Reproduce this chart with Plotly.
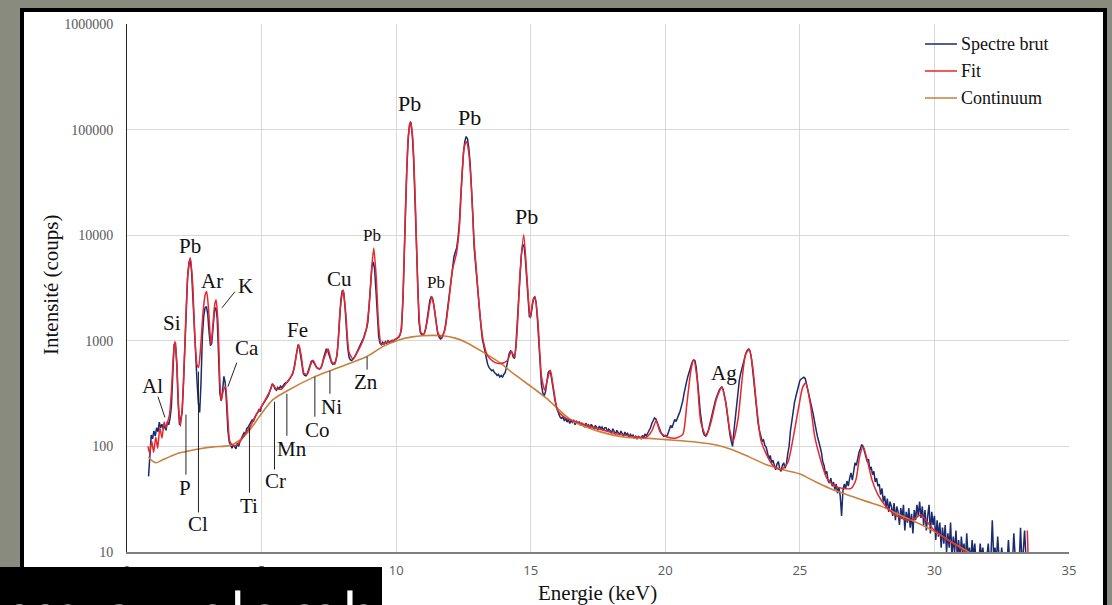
import numpy as np
import plotly.graph_objects as go

# ---------------------------------------------------------------- data
# Raw spectrum, one value every 0.05 keV starting at 0.80 keV (one row = 1 keV)
RAW_START_KEV = 0.80
RAW_STEP_KEV = 0.05
RAW_COUNTS = [
    52, 95, 128, 118, 140, 125, 150, 138, 170, 150, 162, 145, 158, 142, 172, 160, 185, 240, 520, 920,
    960, 600, 260, 160, 185, 210, 400, 900, 2200, 4000, 5500, 6000, 4500, 2400, 1100, 650, 420, 260, 210, 400,
    1100, 1700, 2050, 2110, 1800, 1200, 900, 950, 1400, 1950, 2060, 1650, 750, 320, 270, 330, 460, 400, 250, 140,
    110, 100, 96, 104, 98, 95, 108, 100, 112, 118, 126, 135, 130, 148, 152, 160, 170, 178, 174, 190,
    200, 210, 222, 214, 240, 250, 262, 272, 290, 302, 330, 368, 392, 378, 350, 340, 362, 350, 372, 360,
    382, 392, 402, 405, 420, 440, 455, 480, 540, 650, 800, 900, 880, 720, 560, 490, 470, 465, 490, 540,
    600, 640, 650, 620, 580, 555, 545, 540, 550, 590, 680, 780, 830, 820, 740, 660, 620, 600, 610, 640,
    720, 1000, 1700, 2500, 3000, 2900, 2100, 1300, 860, 700, 660, 650, 670, 700, 740, 790, 850, 890, 960, 1000,
    1080, 1200, 1300, 1500, 2200, 3600, 5000, 5600, 4800, 3000, 1700, 1100, 950, 920, 970, 930, 980, 940, 1000, 960,
    990, 1010, 980, 1030, 1040, 1060, 1080, 1150, 1300, 2400, 7000, 19000, 45000, 83000, 113000, 117000, 90000, 52000, 23000, 8800,
    3000, 1500, 1200, 1140, 1130, 1180, 1300, 1600, 2000, 2400, 2600, 2550, 2200, 1700, 1300, 1150, 1080, 1040, 1060, 1150,
    1250, 1500, 1900, 2500, 3200, 4200, 5400, 6300, 6900, 7600, 9500, 13000, 23000, 40000, 60000, 77000, 86000, 82000, 67000, 48000,
    29500, 15600, 7500, 5200, 4000, 2800, 1900, 1400, 1050, 900, 760, 680, 600, 560, 545, 520, 530, 500, 490, 470,
    480, 455, 470, 450, 480, 500, 560, 650, 760, 800, 780, 700, 680, 900, 1500, 2700, 4500, 6500, 8000, 8100,
    6000, 3800, 2300, 1700, 1700, 2100, 2500, 2600, 2300, 1600, 900, 550, 380, 320, 300, 330, 420, 500, 520, 480,
    400, 320, 275, 238, 214, 201, 188, 184, 192, 174, 186, 170, 181, 165, 176, 169, 178, 160, 172, 166,
    170, 158, 167, 161, 152, 166, 155, 160, 149, 162, 153, 147, 158, 150, 144, 156, 148, 153, 141, 150,
    150, 138, 146, 141, 133, 147, 139, 130, 142, 136, 128, 140, 131, 125, 137, 129, 133, 122, 130, 126,
    128, 119, 126, 117, 124, 121, 118, 127, 122, 130, 126, 134, 140, 150, 165, 178, 186, 182, 168, 150,
    140, 133, 128, 124, 127, 124, 132, 145, 158, 150, 166, 180, 172, 190, 200, 215, 240, 270, 320, 380,
    420, 470, 530, 580, 630, 660, 650, 560, 430, 300, 210, 160, 138, 128, 125, 132, 142, 160, 185, 210,
    232, 265, 290, 320, 340, 355, 365, 345, 300, 258, 205, 160, 130, 112, 100, 140, 190, 250, 330, 420,
    490, 550, 620, 700, 770, 815, 836, 800, 680, 520, 380, 280, 210, 165, 140, 125, 112, 115, 102, 98,
    88, 76, 82, 70, 74, 64, 60, 68, 72, 62, 58, 66, 70, 62, 68, 85, 100, 140, 180, 230,
    260, 295, 340, 390, 420, 435, 445, 452, 440, 390, 330, 290, 260, 230, 200, 170, 140, 125, 112, 100,
    88, 72, 66, 55, 58, 47, 45, 50, 42, 46, 39, 44, 36, 41, 34, 22, 38, 44, 40, 47,
    42, 50, 56, 48, 62, 70, 66, 80, 88, 95, 104, 100, 88, 80, 72, 76, 60, 64, 54, 58,
    46, 50, 42, 44, 35, 40, 30, 34, 26, 32, 24, 30, 27, 22, 29, 20, 27, 24, 18, 26,
    21, 28, 16, 24, 19, 26, 17, 23, 15, 25, 20, 28, 22, 30, 21, 27, 18, 25, 16, 22,
    28, 15, 24, 18, 22, 13, 20, 14, 19, 11, 17, 12, 18, 10, 15, 11, 19, 9, 14, 10,
    16, 9, 13, 8, 14, 10, 12, 8, 15, 9, 11, 8, 13, 9, 12, 8, 10, 8, 12, 9,
    11, 8, 10, 9, 12, 8, 9, 20, 9, 11, 8, 14, 9, 8, 11, 8, 10, 9, 8, 13,
    8, 10, 8, 15, 9, 8, 10, 8, 17, 8, 10, 16, 9, 8,
]

# Fitted spectrum
FIT_KEV = [
    0.78, 0.84, 0.92, 0.99, 1.07, 1.14, 1.22, 1.30, 1.38, 1.45, 1.52, 1.58, 1.65, 1.72, 1.78, 1.85,
    1.92, 1.98, 2.04, 2.10, 2.18, 2.26, 2.35, 2.44, 2.52, 2.60, 2.66, 2.74, 2.82, 2.90, 2.96, 3.03,
    3.12, 3.20, 3.26, 3.31, 3.38, 3.45, 3.50, 3.57, 3.66, 3.74, 3.82, 3.95, 4.10, 4.25, 4.40, 4.57,
    4.75, 4.95, 5.15, 5.30, 5.42, 5.55, 5.75, 5.93, 6.10, 6.22, 6.30, 6.38, 6.47, 6.58, 6.70, 6.82,
    6.92, 7.05, 7.18, 7.32, 7.47, 7.60, 7.72, 7.82, 7.92, 8.03, 8.13, 8.25, 8.40, 8.58, 8.75, 8.88,
    9.00, 9.10, 9.17, 9.26, 9.35, 9.45, 9.60, 9.80, 10.00, 10.15, 10.25, 10.35, 10.45, 10.53, 10.62, 10.72,
    10.82, 10.92, 11.02, 11.15, 11.25, 11.33, 11.42, 11.55, 11.68, 11.82, 11.95, 12.10, 12.24, 12.35, 12.45, 12.53,
    12.61, 12.70, 12.80, 12.88, 13.00, 13.10, 13.23, 13.40, 13.60, 13.80, 14.00, 14.15, 14.28, 14.40, 14.50, 14.60,
    14.74, 14.86, 14.98, 15.08, 15.16, 15.27, 15.40, 15.52, 15.62, 15.73, 15.85, 16.00, 16.30, 16.80, 17.30, 17.80,
    18.30, 18.80, 19.30, 19.50, 19.66, 19.82, 20.10, 20.40, 20.65, 20.80, 20.95, 21.06, 21.18, 21.32, 21.52, 21.70,
    21.90, 22.10, 22.25, 22.40, 22.52, 22.70, 22.85, 22.98, 23.12, 23.25, 23.40, 23.55, 23.75, 24.00, 24.30, 24.55,
    24.75, 24.95, 25.10, 25.22, 25.38, 25.55, 25.75, 26.00, 26.30, 26.60, 26.90, 27.08, 27.22, 27.35, 27.50, 27.68,
    27.90, 28.20, 28.60, 29.00, 29.30, 29.50, 29.75, 30.00, 30.40, 30.80, 31.20, 31.60, 32.20, 32.80, 33.40, 33.45,
]
FIT_COUNTS = [
    100, 86, 112, 88, 122, 96, 150, 120, 170, 150, 175, 200, 330, 700, 990, 620,
    230, 155, 210, 420, 1500, 4200, 6100, 3500, 1100, 600, 560, 900, 1800, 2700, 2930, 2000,
    920, 1500, 2200, 2450, 1500, 420, 270, 330, 370, 200, 112, 102, 104, 116, 132, 152,
    190, 228, 280, 330, 385, 350, 350, 400, 460, 560, 760, 920, 730, 490, 480, 590,
    650, 560, 545, 680, 840, 640, 600, 820, 2000, 3040, 1800, 780, 670, 800, 980, 1250,
    2200, 5200, 7550, 4000, 1400, 920, 960, 990, 1040, 1150, 2400, 19000, 85000, 119000, 80000, 18000,
    2500, 1200, 1150, 1500, 2200, 2630, 2000, 1200, 1070, 1300, 2300, 4800, 6700, 12000, 38000, 68000,
    77000, 60000, 27000, 10000, 4060, 1900, 1020, 720, 640, 610, 620, 660, 795, 700, 1300, 4200,
    10100, 4000, 1645, 2400, 2630, 1500, 460, 340, 430, 530, 350, 220, 185, 168, 152, 140,
    130, 124, 122, 140, 175, 135, 122, 120, 130, 250, 520, 665, 440, 170, 125, 170,
    280, 365, 260, 140, 112, 180, 420, 740, 830, 560, 230, 115, 85, 66, 60, 70,
    120, 230, 360, 398, 260, 125, 78, 50, 42, 40, 40, 48, 80, 100, 75, 48,
    35, 27, 22, 20, 21, 22.5, 19, 16, 13.5, 11.6, 9.9, 8.2, 6.2, 4.8, 3.6, 16,
]

# Continuum (background) under the peaks
CONTINUUM_KEV = [
    0.80, 0.90, 1.08, 1.30, 1.60, 1.90, 2.15, 2.71, 3.20, 3.82, 4.20, 4.57, 5.00, 5.42, 5.94, 6.90,
    7.65, 8.91, 9.50, 10.13, 10.60, 10.99, 11.35, 11.73, 12.20, 12.62, 13.20, 13.85, 14.40, 15.07, 15.59, 16.50,
    17.56, 18.50, 19.41, 20.04, 20.60, 21.27, 21.90, 22.49, 23.10, 23.76, 24.49, 24.98, 25.60, 26.21, 26.95, 27.50,
    28.06, 28.70, 29.44, 30.07, 30.66, 31.29, 31.80, 33.45,
]
CONTINUUM_COUNTS = [
    80, 74, 70, 74, 80, 86, 89, 95, 99, 102, 115, 144, 205, 277, 335, 448,
    533, 709, 880, 1025, 1090, 1117, 1125, 1117, 1060, 959, 790, 621, 480, 360, 285, 178,
    138, 122, 119, 116, 113, 109, 103, 93, 80, 67, 59, 55, 46, 39, 33.5, 30,
    26.9, 22.5, 18.5, 15.3, 12.3, 9.9, 8, 5,
]

X_TICKS = [0, 5, 10, 15, 20, 25, 30, 35]
Y_TICKS = [10, 100, 1000, 10000, 100000, 1000000]

# Element labels: text, energy (keV), height (counts), font size
LABEL_TEXT = ["Al", "Si", "Pb", "P", "Cl", "Ar", "K", "Ca", "Ti", "Cr", "Mn", "Fe", "Co",
              "Ni", "Cu", "Zn", "Pb", "Pb", "Pb", "Pb", "Pb", "Ag"]
LABEL_KEV = [0.93, 1.67, 2.34, 2.15, 2.64, 3.16, 4.42, 4.46, 4.53, 5.50, 6.13, 6.35, 7.09,
             7.61, 7.91, 8.88, 9.10, 10.51, 11.47, 12.74, 14.85, 22.17]
LABEL_COUNTS = [376, 1483, 7940, 40.7, 18.6, 3707, 3319, 861, 27.5, 47.4, 95.3, 1274, 144,
                238, 3864, 410, 9863, 178600, 3548, 128800, 14930, 499]
LABEL_SIZE = [21, 21, 21, 21, 21, 21, 21, 21, 21, 21, 21, 21, 21,
              21, 21, 21, 17, 22, 17, 22, 22, 21]

# Leader lines from a label to its line: keV / counts at both ends
LEADER_KEV0 = [1.15, 2.19, 2.655, 4.01, 4.08, 4.55, 5.48, 5.94, 6.98, 7.54, 8.92]
LEADER_CNT0 = [296, 200, 510, 2917, 621, 151, 265, 316, 457, 520, 708]
LEADER_KEV1 = [1.41, 2.19, 2.655, 3.53, 3.75, 4.55, 5.48, 5.94, 6.98, 7.54, 8.92]
LEADER_CNT1 = [188, 54, 23.7, 2055, 368, 36.5, 60.4, 126, 191, 315, 533]

SERIES_NAMES = ["Spectre brut", "Fit", "Continuum"]
SERIES_COLORS = ["#1b2b6e", "#e8262d", "#c8803e"]

# ---------------------------------------------------------------- layout helpers
W, H = 1112, 605
PLOT_L, PLOT_R, PLOT_T, PLOT_B = 127, 1069, 24, 552


def px_x(px):
    return (px - PLOT_L) / (PLOT_R - PLOT_L)


def px_y(py):
    return (PLOT_B - py) / (PLOT_B - PLOT_T)


SERIF = "Liberation Serif, Times New Roman, serif"

raw_kev = [round(RAW_START_KEV + RAW_STEP_KEV * i, 2) for i in range(len(RAW_COUNTS))]

fig = go.Figure()
fig.add_trace(go.Scatter(x=raw_kev, y=RAW_COUNTS, mode="lines", name=SERIES_NAMES[0],
                         line=dict(color=SERIES_COLORS[0], width=1.5)))
fig.add_trace(go.Scatter(x=CONTINUUM_KEV, y=CONTINUUM_COUNTS, mode="lines", name=SERIES_NAMES[2],
                         line=dict(color=SERIES_COLORS[2], width=1.6, shape="spline", smoothing=0.8)))
fig.add_trace(go.Scatter(x=FIT_KEV, y=FIT_COUNTS, mode="lines", name=SERIES_NAMES[1],
                         line=dict(color=SERIES_COLORS[1], width=1.5, shape="spline", smoothing=0.6)))

shapes = []
# white card with black frame
shapes.append(dict(type="rect", xref="paper", yref="paper", layer="below",
                   x0=px_x(22), x1=px_x(1105), y0=px_y(625), y1=px_y(10),
                   fillcolor="white", line=dict(color="black", width=4)))
# leader lines
for k0, c0, k1, c1 in zip(LEADER_KEV0, LEADER_CNT0, LEADER_KEV1, LEADER_CNT1):
    shapes.append(dict(type="line", xref="x", yref="y", x0=k0, y0=c0, x1=k1, y1=c1,
                       line=dict(color="#222222", width=1)))
# legend samples
legend_rows = [44, 71, 98]
for name, color, py in zip(SERIES_NAMES, SERIES_COLORS, legend_rows):
    shapes.append(dict(type="line", xref="paper", yref="paper",
                       x0=px_x(925), x1=px_x(957), y0=px_y(py), y1=px_y(py),
                       line=dict(color=color, width=1.5)))
# caption bar
shapes.append(dict(type="rect", xref="paper", yref="paper", layer="above",
                   x0=px_x(-5), x1=px_x(382), y0=px_y(625), y1=px_y(567),
                   fillcolor="black", line=dict(width=0)))

annotations = []
for txt, k, c, s in zip(LABEL_TEXT, LABEL_KEV, LABEL_COUNTS, LABEL_SIZE):
    annotations.append(dict(x=k, y=float(np.log10(c)), xref="x", yref="y", text=txt,
                            showarrow=False, xanchor="center", yanchor="middle",
                            font=dict(family=SERIF, size=s, color="#111111")))
for name, py in zip(SERIES_NAMES, legend_rows):
    annotations.append(dict(x=px_x(959), y=px_y(py), xref="paper", yref="paper", text=name,
                            showarrow=False, xanchor="left", yanchor="middle",
                            font=dict(family=SERIF, size=18, color="#111111")))
annotations.append(dict(x=px_x(597), y=px_y(593), xref="paper", yref="paper",
                        text="Energie (keV)", showarrow=False, xanchor="center", yanchor="middle",
                        font=dict(family=SERIF, size=21, color="#111111")))
annotations.append(dict(x=px_x(51), y=px_y(285), xref="paper", yref="paper",
                        text="Intensité (coups)", showarrow=False, textangle=-90,
                        xanchor="center", yanchor="middle",
                        font=dict(family=SERIF, size=21, color="#111111")))
annotations.append(dict(x=px_x(-4), y=px_y(569), xref="paper", yref="paper",
                        text="rre au plomb", showarrow=False, xanchor="left", yanchor="top",
                        font=dict(family="Open Sans, sans-serif", size=63, color="white")))

fig.update_layout(
    width=W, height=H,
    margin=dict(l=PLOT_L, r=W - PLOT_R, t=PLOT_T, b=H - PLOT_B, autoexpand=False),
    paper_bgcolor="#8a8b7f",
    plot_bgcolor="rgba(0,0,0,0)",
    showlegend=False,
    shapes=shapes,
    annotations=annotations,
    xaxis=dict(range=[0, 35], tickvals=X_TICKS, ticktext=[str(v) for v in X_TICKS],
               showgrid=True, gridcolor="#d9d9d9", gridwidth=1, zeroline=False,
               showline=True, linecolor="#7f7f7f", linewidth=2, ticks="",
               ticklabelstandoff=5,
               tickfont=dict(family="Open Sans, sans-serif", size=13, color="#595959")),
    yaxis=dict(type="log", range=[1, 6], tickvals=Y_TICKS, ticktext=[str(v) for v in Y_TICKS],
               showgrid=True, gridcolor="#d9d9d9", gridwidth=1, zeroline=False,
               showline=True, linecolor="#262626", linewidth=1, ticks="",
               ticklabelstandoff=10,
               tickfont=dict(family=SERIF, size=14, color="#595959")),
)

fig.write_html("out.html")
